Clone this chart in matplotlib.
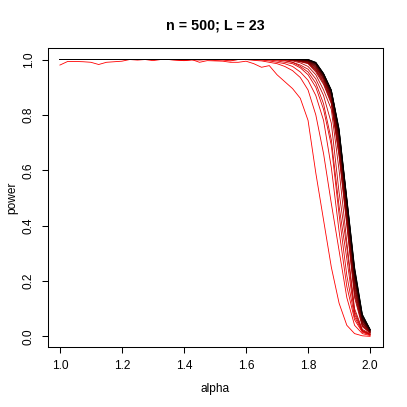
import numpy as np
import matplotlib
matplotlib.use("Agg")
import matplotlib.pyplot as plt
from matplotlib.colors import LinearSegmentedColormap

plt.rcParams['font.family'] = ['Liberation Sans', 'DejaVu Sans']

alpha = [1.0, 1.025, 1.05, 1.075, 1.1, 1.125, 1.15, 1.175, 1.2, 1.225,
         1.25, 1.275, 1.3, 1.325, 1.35, 1.375, 1.4, 1.425, 1.45, 1.475,
         1.5, 1.525, 1.55, 1.575, 1.6, 1.625, 1.65, 1.675, 1.7, 1.725,
         1.75, 1.775, 1.8, 1.825, 1.85, 1.875, 1.9, 1.925, 1.95, 1.975, 2.0]

power_01 = [0.98, 0.993, 0.993, 0.992, 0.99, 0.982, 0.99, 0.992, 0.994, 1, 0.998, 1, 0.996, 1, 1, 0.998, 0.996, 1, 0.99, 0.996, 0.995, 0.994, 0.99, 0.99,
            0.994, 0.985, 0.972, 0.978, 0.945, 0.92, 0.895, 0.86, 0.78, 0.59, 0.42, 0.25, 0.12, 0.04, 0.01, 0.002, 0.0]
power_02 = [1, 1, 1, 1, 1, 1, 1, 1, 1, 1, 1, 1, 1, 1, 1, 0.998, 0.996, 0.998, 1, 1, 0.997, 0.998, 0.995, 1,
            1, 0.997, 0.995, 0.99, 0.985, 0.975, 0.96, 0.935, 0.89, 0.80, 0.66, 0.48, 0.31, 0.14, 0.04, 0.01, 0.003]
power_03 = [1, 1, 1, 1, 1, 1, 1, 1, 1, 1, 1, 1, 1, 1, 1, 1, 1, 1, 0.998, 1, 1, 1, 0.998, 1,
            1, 1, 0.998, 0.995, 0.99, 0.985, 0.975, 0.955, 0.925, 0.87, 0.78, 0.61, 0.38, 0.18, 0.06, 0.015, 0.005]
power_04 = [1, 1, 1, 1, 1, 1, 1, 1, 1, 1, 1, 1, 1, 1, 1, 1, 1, 1, 1, 1, 1, 1, 1, 1,
            1, 1, 1, 0.998, 0.995, 0.99, 0.985, 0.97, 0.945, 0.90, 0.82, 0.69, 0.44, 0.22, 0.07, 0.018, 0.006]
power_05 = [1, 1, 1, 1, 1, 1, 1, 1, 1, 1, 1, 1, 1, 1, 1, 1, 1, 1, 1, 1, 1, 1, 1, 1,
            1, 1, 1, 1, 0.998, 0.995, 0.99, 0.975, 0.955, 0.915, 0.84, 0.71, 0.47, 0.28, 0.08, 0.02, 0.007]
power_06 = [1, 1, 1, 1, 1, 1, 1, 1, 1, 1, 1, 1, 1, 1, 1, 1, 1, 1, 1, 1, 1, 1, 1, 1,
            1, 1, 1, 1, 1, 0.997, 0.99, 0.98, 0.965, 0.93, 0.87, 0.77, 0.52, 0.32, 0.09, 0.022, 0.008]
power_07 = [1, 1, 1, 1, 1, 1, 1, 1, 1, 1, 1, 1, 1, 1, 1, 1, 1, 1, 1, 1, 1, 1, 1, 1,
            1, 1, 1, 1, 1, 1, 0.995, 0.988, 0.975, 0.945, 0.89, 0.82, 0.60, 0.34, 0.10, 0.025, 0.01]
power_08 = [1, 1, 1, 1, 1, 1, 1, 1, 1, 1, 1, 1, 1, 1, 1, 1, 1, 1, 1, 1, 1, 1, 1, 1, 1, 1, 1, 1, 1, 1,
            0.997, 0.992, 0.985, 0.955, 0.91, 0.84, 0.65, 0.40, 0.14, 0.035, 0.012]
power_09 = [1, 1, 1, 1, 1, 1, 1, 1, 1, 1, 1, 1, 1, 1, 1, 1, 1, 1, 1, 1, 1, 1, 1, 1, 1, 1, 1, 1, 1, 1,
            0.998, 0.993, 0.987, 0.96, 0.915, 0.845, 0.66, 0.41, 0.15, 0.038, 0.013]
power_10 = [1, 1, 1, 1, 1, 1, 1, 1, 1, 1, 1, 1, 1, 1, 1, 1, 1, 1, 1, 1, 1, 1, 1, 1, 1, 1, 1, 1, 1, 1,
            0.998, 0.994, 0.989, 0.963, 0.92, 0.85, 0.67, 0.42, 0.16, 0.04, 0.014]
power_11 = [1, 1, 1, 1, 1, 1, 1, 1, 1, 1, 1, 1, 1, 1, 1, 1, 1, 1, 1, 1, 1, 1, 1, 1, 1, 1, 1, 1, 1, 1,
            0.999, 0.995, 0.99, 0.966, 0.925, 0.855, 0.68, 0.43, 0.17, 0.045, 0.015]
power_12 = [1, 1, 1, 1, 1, 1, 1, 1, 1, 1, 1, 1, 1, 1, 1, 1, 1, 1, 1, 1, 1, 1, 1, 1, 1, 1, 1, 1, 1, 1,
            0.999, 0.996, 0.992, 0.97, 0.93, 0.86, 0.69, 0.44, 0.18, 0.048, 0.016]
power_13 = [1, 1, 1, 1, 1, 1, 1, 1, 1, 1, 1, 1, 1, 1, 1, 1, 1, 1, 1, 1, 1, 1, 1, 1, 1, 1, 1, 1, 1, 1,
            1, 0.997, 0.993, 0.973, 0.932, 0.865, 0.70, 0.45, 0.19, 0.05, 0.017]
power_14 = [1, 1, 1, 1, 1, 1, 1, 1, 1, 1, 1, 1, 1, 1, 1, 1, 1, 1, 1, 1, 1, 1, 1, 1, 1, 1, 1, 1, 1, 1,
            1, 0.998, 0.994, 0.976, 0.935, 0.87, 0.71, 0.46, 0.20, 0.055, 0.018]
power_15 = [1, 1, 1, 1, 1, 1, 1, 1, 1, 1, 1, 1, 1, 1, 1, 1, 1, 1, 1, 1, 1, 1, 1, 1, 1, 1, 1, 1, 1, 1,
            1, 0.998, 0.995, 0.979, 0.938, 0.873, 0.715, 0.465, 0.21, 0.058, 0.019]
power_16 = [1, 1, 1, 1, 1, 1, 1, 1, 1, 1, 1, 1, 1, 1, 1, 1, 1, 1, 1, 1, 1, 1, 1, 1, 1, 1, 1, 1, 1, 1,
            1, 0.999, 0.996, 0.981, 0.94, 0.876, 0.72, 0.47, 0.215, 0.06, 0.02]
power_17 = [1, 1, 1, 1, 1, 1, 1, 1, 1, 1, 1, 1, 1, 1, 1, 1, 1, 1, 1, 1, 1, 1, 1, 1, 1, 1, 1, 1, 1, 1,
            1, 0.999, 0.997, 0.983, 0.942, 0.879, 0.725, 0.475, 0.22, 0.063, 0.021]
power_18 = [1, 1, 1, 1, 1, 1, 1, 1, 1, 1, 1, 1, 1, 1, 1, 1, 1, 1, 1, 1, 1, 1, 1, 1, 1, 1, 1, 1, 1, 1,
            1, 1, 0.998, 0.985, 0.944, 0.882, 0.73, 0.48, 0.225, 0.066, 0.022]
power_19 = [1, 1, 1, 1, 1, 1, 1, 1, 1, 1, 1, 1, 1, 1, 1, 1, 1, 1, 1, 1, 1, 1, 1, 1, 1, 1, 1, 1, 1, 1,
            1, 1, 0.998, 0.986, 0.945, 0.884, 0.735, 0.485, 0.23, 0.069, 0.023]
power_20 = [1, 1, 1, 1, 1, 1, 1, 1, 1, 1, 1, 1, 1, 1, 1, 1, 1, 1, 1, 1, 1, 1, 1, 1, 1, 1, 1, 1, 1, 1,
            1, 1, 0.999, 0.987, 0.947, 0.886, 0.74, 0.49, 0.235, 0.072, 0.024]
power_21 = [1, 1, 1, 1, 1, 1, 1, 1, 1, 1, 1, 1, 1, 1, 1, 1, 1, 1, 1, 1, 1, 1, 1, 1, 1, 1, 1, 1, 1, 1,
            1, 1, 0.999, 0.988, 0.948, 0.888, 0.743, 0.493, 0.24, 0.075, 0.024]
power_22 = [1, 1, 1, 1, 1, 1, 1, 1, 1, 1, 1, 1, 1, 1, 1, 1, 1, 1, 1, 1, 1, 1, 1, 1, 1, 1, 1, 1, 1, 1,
            1, 1, 1, 0.989, 0.949, 0.889, 0.747, 0.497, 0.245, 0.078, 0.025]
power_23 = [1, 1, 1, 1, 1, 1, 1, 1, 1, 1, 1, 1, 1, 1, 1, 1, 1, 1, 1, 1, 1, 1, 1, 1, 1, 1, 1, 1, 1, 1,
            1, 1, 1, 0.99, 0.95, 0.89, 0.75, 0.50, 0.25, 0.08, 0.025]

curves = [power_01, power_02, power_03, power_04, power_05, power_06, power_07, power_08,
          power_09, power_10, power_11, power_12, power_13, power_14, power_15, power_16,
          power_17, power_18, power_19, power_20, power_21, power_22, power_23]

x_ticks = [1.0, 1.2, 1.4, 1.6, 1.8, 2.0]
y_ticks = [0.0, 0.2, 0.4, 0.6, 0.8, 1.0]
title = "n = 500; L = 23"

W = 407.0
fig = plt.figure(figsize=(4.07, 4.07), dpi=100)
ax = fig.add_axes([47.5 / W, 1 - 347.45 / W, 335 / W, 299 / W])

cmap = LinearSegmentedColormap.from_list("rb", ["#FF0000", "#000000"])
n = len(curves)
for k, c in enumerate(curves):
    ax.plot(alpha, c, color=cmap(k / (n - 1)), lw=0.6)

ax.set_xlim(0.96, 2.04)
ax.set_ylim(-0.04, 1.04)
ax.set_xticks(x_ticks)
ax.set_xticklabels([f"{v:.1f}" for v in x_ticks])
ax.set_yticks(y_ticks)
ax.set_yticklabels([f"{v:.1f}" for v in y_ticks], rotation=90, va='center')
ax.tick_params(direction='out', length=4.3, width=0.75, labelsize=8.6, pad=5, color='black')
for s in ax.spines.values():
    s.set_linewidth(0.75)

fig.text(215 / W, 1 - 389 / W, "alpha", ha='center', va='center', fontsize=8.6)
fig.text(12 / W, 1 - 197.5 / W, "power", ha='center', va='center', rotation=90, fontsize=8.6)
fig.text(215 / W, 1 - 25 / W, title, ha='center', va='center', fontsize=10.3, fontweight='bold')

fig.savefig("out.png", dpi=100)
